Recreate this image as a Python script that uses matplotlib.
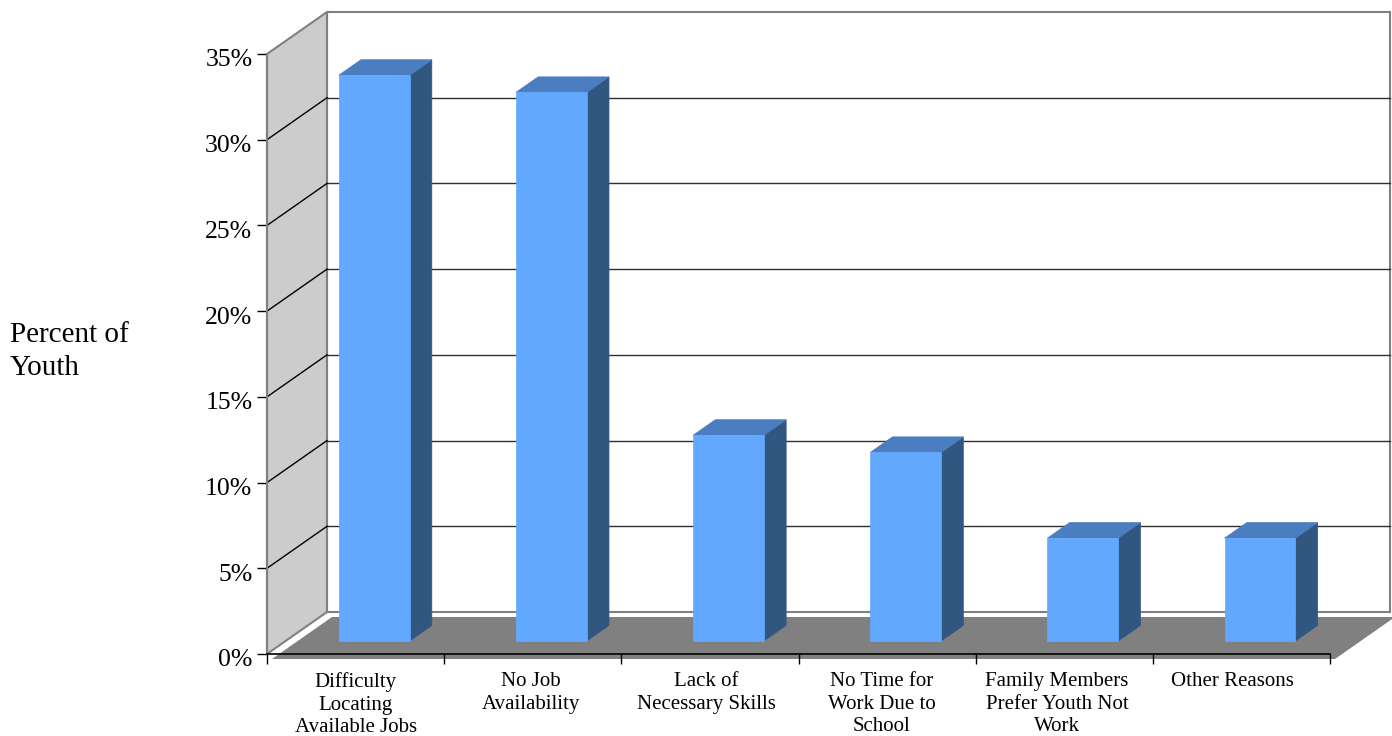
import matplotlib
matplotlib.use('Agg')
import matplotlib.pyplot as plt
from matplotlib.patches import Polygon
from matplotlib.lines import Line2D
from matplotlib.transforms import IdentityTransform, Affine2D

# ---- data ----
categories = ["Difficulty\nLocating\nAvailable Jobs", "No Job\nAvailability",
              "Lack of\nNecessary Skills", "No Time for\nWork Due to\nSchool",
              "Family Members\nPrefer Youth Not\nWork", "Other Reasons"]
values = [33, 32, 12, 11, 6, 6]
yticks = [0, 5, 10, 15, 20, 25, 30, 35]
ytick_labels = ["0%", "5%", "10%", "15%", "20%", "25%", "30%", "35%"]
ylabel = "Percent of\nYouth"

# ---- style ----
plt.rcParams['font.family'] = ['Liberation Serif', 'DejaVu Serif']
W, H = 1392, 736
DX, DY = 60, 42          # full depth offset in pixels
T_FRONT, T_BACK = 0.31, 0.68   # bar depth
BAR_W = 0.40
FRONT_C, SIDE_C, TOP_C = '#63A8FF', '#315680', '#4A7EC0'

fig = plt.figure(figsize=(W / 100, H / 100), dpi=100)
fig.patch.set_facecolor('white')
ax = fig.add_axes([267 / W, 82 / H, 1063 / W, 600 / H])
ax.set_xlim(0, len(categories))
ax.set_ylim(yticks[0], yticks[-1])
ax.patch.set_visible(False)
for s in ('top', 'right'):
    ax.spines[s].set_visible(False)
ax.spines['left'].set_color('#808080')
ax.spines['left'].set_linewidth(1.5)
ax.spines['bottom'].set_color('black')
ax.spines['bottom'].set_linewidth(1.2)
ax.spines['bottom'].set_zorder(5)

ax.set_yticks(yticks)
ax.set_yticklabels(ytick_labels, fontsize=18.5)
ax.tick_params(axis='y', length=7.5, width=1, pad=3, color='black')
for lab in ax.get_yticklabels():
    lab.set_transform(lab.get_transform() + Affine2D().translate(0, -4))

ax.set_xticks(range(len(categories) + 1))
ax.set_xticklabels([])
ax.tick_params(axis='x', which='major', length=7, width=1, color='black')
ax.set_xticks([i + 0.5 for i in range(len(categories))], minor=True)
ax.set_xticklabels(categories, minor=True, fontsize=15, linespacing=1.26)
ax.tick_params(axis='x', which='minor', length=0, pad=13)
for i, lab in enumerate(ax.get_xticklabels(minor=True)):
    lab.set_transform(lab.get_transform() + Affine2D().translate(-1.8 * i, 0))

fig.text(10 / W, 1 - 322 / H, ylabel, fontsize=21, ha='left', va='top', linespacing=1.35)

ident = IdentityTransform()


def P(x, v, t):
    px, py = ax.transData.transform((x, v))
    return (px + DX * t, py + DY * t)


def poly(pts, **kw):
    p = Polygon(pts, closed=True, transform=ident, clip_on=False, **kw)
    ax.add_patch(p)


def line(p0, p1, **kw):
    ax.add_line(Line2D([p0[0], p1[0]], [p0[1], p1[1]], transform=ident, clip_on=False, **kw))


x0, x1 = 0, len(categories)
v0, v1 = yticks[0], yticks[-1]

# back wall
poly([P(x0, v0, 1), P(x1, v0, 1), P(x1, v1, 1), P(x0, v1, 1)],
     facecolor='white', edgecolor='#808080', linewidth=1.5, zorder=0.5)
for v in yticks[1:-1]:
    line(P(x0, v, 1), P(x1, v, 1), color='#303030', linewidth=1, zorder=0.6)

# left wall
poly([P(x0, v0, 0), P(x0, v1, 0), P(x0, v1, 1), P(x0, v0, 1)],
     facecolor='#CCCCCC', edgecolor='#808080', linewidth=1.5, zorder=0.5)
for v in yticks[1:-1]:
    line(P(x0, v, 0), P(x0, v, 1), color='black', linewidth=1, zorder=0.6)

# floor (slightly offset, like the original rendering)
fl = [P(x0, v0, 0), P(x1, v0, 0), P(x1, v0, 1), P(x0, v0, 1)]
fl = [(a + 5, b - 5) for a, b in fl]
poly(fl, facecolor='#808080', edgecolor='none', zorder=0.7)

# bars
for i, val in enumerate(values):
    xl = i + 0.5 - BAR_W / 2
    xr = i + 0.5 + BAR_W / 2
    poly([P(xr, 0, T_FRONT), P(xr, 0, T_BACK), P(xr, val, T_BACK), P(xr, val, T_FRONT)],
         facecolor=SIDE_C, edgecolor=SIDE_C, linewidth=0.5, zorder=2)
    poly([P(xl, val, T_FRONT), P(xr, val, T_FRONT), P(xr, val, T_BACK), P(xl, val, T_BACK)],
         facecolor=TOP_C, edgecolor=TOP_C, linewidth=0.5, zorder=2)
    poly([P(xl, 0, T_FRONT), P(xr, 0, T_FRONT), P(xr, val, T_FRONT), P(xl, val, T_FRONT)],
         facecolor=FRONT_C, edgecolor=FRONT_C, linewidth=0.5, zorder=2.1)

fig.savefig('out.png', dpi=100)
